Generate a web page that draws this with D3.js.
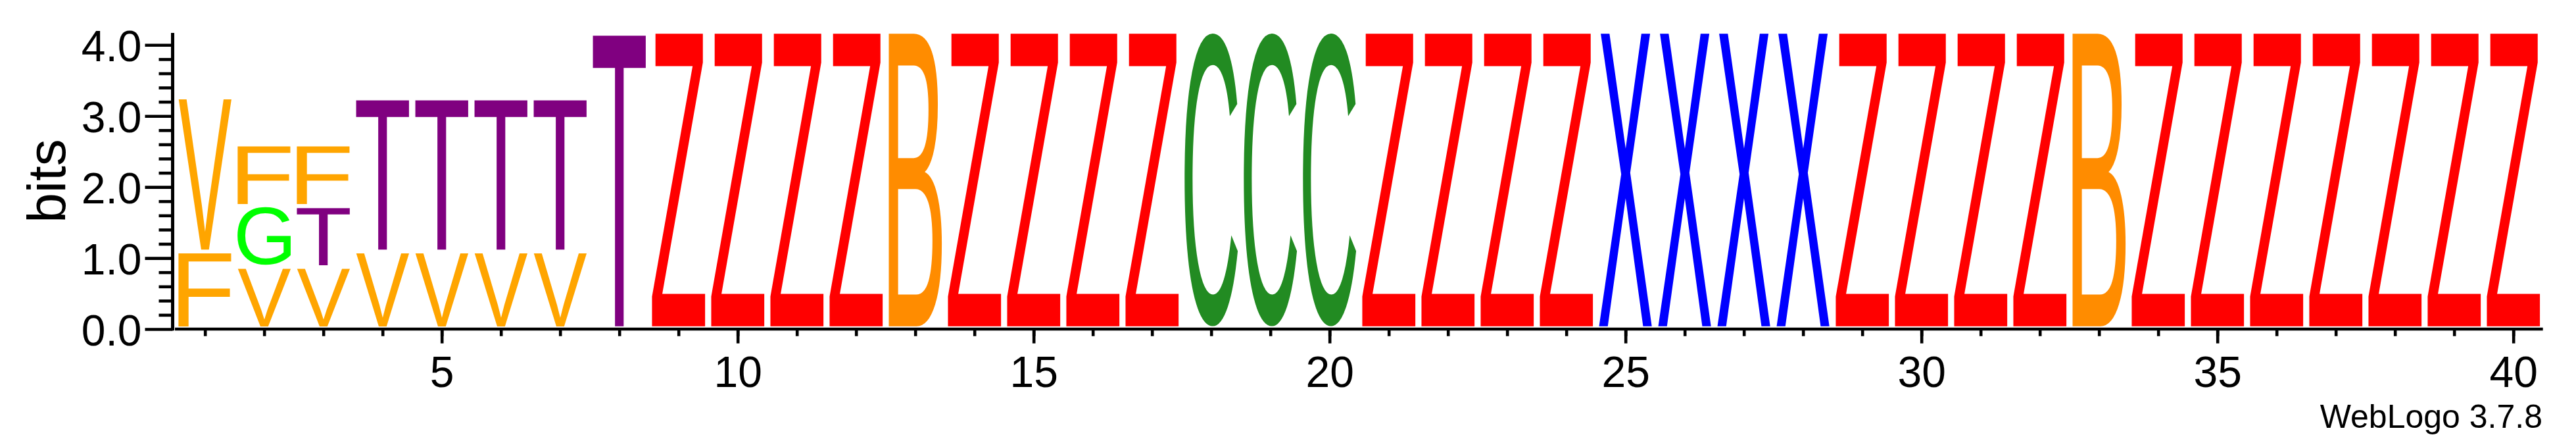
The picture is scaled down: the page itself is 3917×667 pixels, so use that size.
<!DOCTYPE html>
<html>
<head>
<meta charset="utf-8">
<script src="https://cdn.jsdelivr.net/npm/d3@7"></script>
<style>
html, body { margin: 0; padding: 0; background: #ffffff; }
svg { display: block; }
</style>
</head>
<body>
<svg id="chart" width="3917" height="667"></svg>
<script>
// ---------------- DATA ----------------
const positions = [1,2,3,4,5,6,7,8,9,10,11,12,13,14,15,16,17,18,19,20,
                   21,22,23,24,25,26,27,28,29,30,31,32,33,34,35,36,37,38,39,40];

// letters in each column, bottom to top
const stackLetters = [
  ["F","V"], ["V","G","F"], ["V","T","F"], ["V","T"], ["V","T"], ["V","T"], ["V","T"], ["T"],
  ["Z"], ["Z"], ["Z"], ["Z"], ["B"], ["Z"], ["Z"], ["Z"], ["Z"], ["C"], ["C"], ["C"],
  ["Z"], ["Z"], ["Z"], ["Z"], ["X"], ["X"], ["X"], ["X"], ["Z"], ["Z"], ["Z"], ["Z"],
  ["B"], ["Z"], ["Z"], ["Z"], ["Z"], ["Z"], ["Z"], ["Z"]
];

// heights (bits) of each letter, bottom to top
const stackBits = [
  [1.08, 2.17], [0.862, 0.862, 0.862], [0.862, 0.862, 0.862], [1.08, 2.17], [1.08, 2.17], [1.08, 2.17], [1.08, 2.17], [4.18],
  [4.18], [4.18], [4.18], [4.18], [4.18], [4.18], [4.18], [4.18], [4.18], [4.18], [4.18], [4.18],
  [4.18], [4.18], [4.18], [4.18], [4.18], [4.18], [4.18], [4.18], [4.18], [4.18], [4.18], [4.18],
  [4.18], [4.18], [4.18], [4.18], [4.18], [4.18], [4.18], [4.18]
];

const letterColors = {
  F: "#FFA500", V: "#FFA500", G: "#00FF00", T: "#800080",
  Z: "#FF0000", B: "#FF8C00", C: "#228B22", X: "#0000FF"
};

const yMajorTicks = [0, 1, 2, 3, 4];
const yTickLabels = ["0.0", "1.0", "2.0", "3.0", "4.0"];
const yMinorTicks = [0.2,0.4,0.6,0.8,1.2,1.4,1.6,1.8,2.2,2.4,2.6,2.8,3.2,3.4,3.6,3.8];
const yAxisMax = 4.17;
const xMajorTicks = [5, 10, 15, 20, 25, 30, 35, 40];
const yLabel = "bits";
const footer = "WebLogo 3.7.8";

// ---------------- DRAWING ----------------
const FONT = "'Liberation Sans', Arial, Helvetica, sans-serif";
const svg = d3.select("#chart");
svg.append("rect").attr("width", 3917).attr("height", 667).attr("fill", "#ffffff");

const y = d3.scaleLinear().domain([0, 4]).range([500, 68.3]);
const x = d3.scaleLinear().domain([1, 40]).range([311.7, 3821.7]);
const colW = x(2) - x(1);
const glyphHalfW = colW * 0.45;

// glyph ink metrics via canvas
const FS = 200;
const ctx = document.createElement("canvas").getContext("2d");
ctx.font = FS + "px 'Liberation Sans'";
const metricCache = {};
function metrics(ch) {
  if (!metricCache[ch]) {
    const m = ctx.measureText(ch);
    metricCache[ch] = { l: m.actualBoundingBoxLeft, r: m.actualBoundingBoxRight,
                        a: m.actualBoundingBoxAscent, d: m.actualBoundingBoxDescent };
  }
  return metricCache[ch];
}

const glyphs = [];
positions.forEach((p, i) => {
  let cum = 0;
  stackLetters[i].forEach((ch, j) => {
    const h = stackBits[i][j];
    glyphs.push({ pos: p, ch, lo: cum, hi: cum + h });
    cum += h;
  });
});

const logo = svg.append("g");
logo.selectAll("text.glyph")
  .data(glyphs)
  .join("text")
  .attr("class", "glyph")
  .attr("x", 0).attr("y", 0)
  .attr("font-family", FONT)
  .attr("font-size", FS)
  .attr("text-rendering", "geometricPrecision")
  .attr("fill", d => letterColors[d.ch])
  .attr("transform", d => {
    const m = metrics(d.ch);
    const inkTop = y(d.hi) - 1.65 + 2.65;
    const inkBottom = y(d.lo) - 1.65 - 2.65;
    const inkLeft = x(d.pos) - glyphHalfW;
    const inkRight = x(d.pos) + glyphHalfW;
    const sx = (inkRight - inkLeft) / (m.l + m.r);
    const sy = (inkBottom - inkTop) / (m.a + m.d);
    return `translate(${inkLeft + m.l * sx},${inkTop + m.a * sy}) scale(${sx},${sy})`;
  })
  .text(d => d.ch);

// ---- Y axis ----
const yAxisX = 262.5;
const yMinorG = svg.append("g").attr("transform", `translate(${yAxisX},0)`)
  .call(d3.axisLeft(y).tickValues(yMinorTicks).tickSize(21).tickFormat(""));
const yMajorG = svg.append("g").attr("transform", `translate(${yAxisX},0)`)
  .call(d3.axisLeft(y).tickValues(yMajorTicks).tickSize(42)
        .tickFormat((d, i) => yTickLabels[i]));
[yMinorG, yMajorG].forEach(g => {
  g.select(".domain").remove();
  g.selectAll(".tick line").attr("stroke", "#000").attr("stroke-width", 4.6);
});
yMajorG.selectAll(".tick text")
  .attr("x", -47).attr("y", 24.5).attr("dy", 0)
  .attr("fill", "#000")
  .attr("font-family", FONT).attr("font-size", 66)
  .attr("text-anchor", "end");

svg.append("line")
  .attr("x1", yAxisX).attr("x2", yAxisX)
  .attr("y1", y(yAxisMax)).attr("y2", 502.3)
  .attr("stroke", "#000").attr("stroke-width", 5);

svg.append("text")
  .attr("transform", "translate(99,275) rotate(-90)")
  .attr("text-anchor", "middle")
  .attr("font-family", FONT).attr("font-size", 82)
  .attr("fill", "#000")
  .text(yLabel);

// ---- X axis ----
const xAxisY = 500;
const xMinorG = svg.append("g").attr("transform", `translate(0,${xAxisY})`)
  .call(d3.axisBottom(x).tickValues(positions).tickSize(10.7).tickFormat(""));
const xMajorG = svg.append("g").attr("transform", `translate(0,${xAxisY})`)
  .call(d3.axisBottom(x).tickValues(xMajorTicks).tickSize(21.7).tickFormat(d => d));
[xMinorG, xMajorG].forEach(g => {
  g.select(".domain").remove();
  g.selectAll(".tick line").attr("stroke", "#000").attr("stroke-width", 4.6);
});
xMajorG.selectAll(".tick text")
  .attr("y", 88).attr("dy", 0)
  .attr("fill", "#000")
  .attr("font-family", FONT).attr("font-size", 66)
  .attr("text-anchor", "middle");

svg.append("line")
  .attr("x1", 266).attr("x2", x(40.5))
  .attr("y1", xAxisY).attr("y2", xAxisY)
  .attr("stroke", "#000").attr("stroke-width", 4.6);

svg.append("text")
  .attr("x", 3866).attr("y", 650)
  .attr("text-anchor", "end")
  .attr("font-family", FONT).attr("font-size", 50)
  .attr("fill", "#000")
  .text(footer);
</script>
</body>
</html>
